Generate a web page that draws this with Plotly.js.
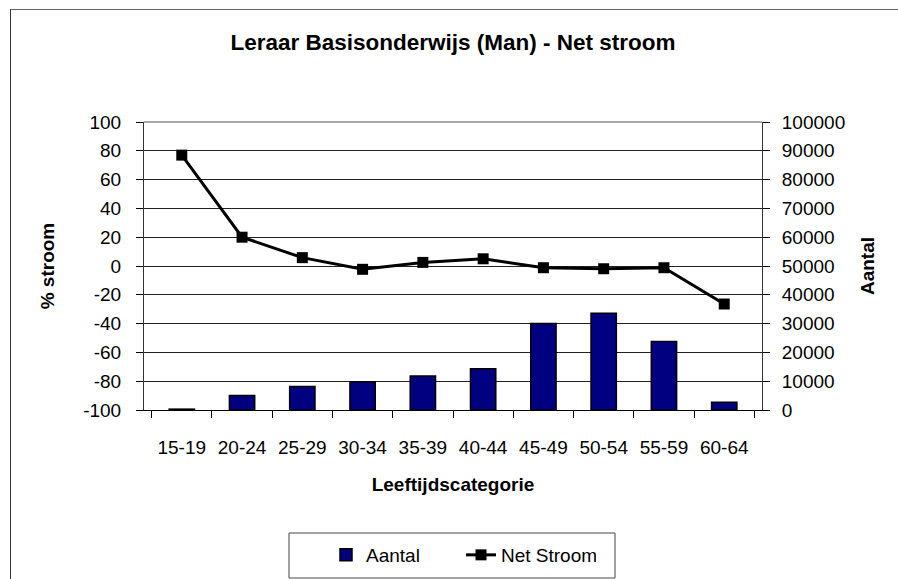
<!DOCTYPE html>
<html>
<head>
<meta charset="utf-8">
<script src="https://cdn.plot.ly/plotly-3.0.1.min.js"></script>
<style>
  html, body { margin: 0; padding: 0; background: #fff; overflow: hidden; width: 898px; height: 579px; }
  #frame { position: absolute; left: 10px; top: 9px; width: 950px; height: 650px; border-left: 1px solid #333; border-top: 1px solid #666; }
  #chart { position: absolute; left: 0; top: 0; width: 898px; height: 579px; }
</style>
</head>
<body>
<div id="frame"></div>
<div id="chart"></div>
<script>
const categories = ["15-19", "20-24", "25-29", "30-34", "35-39", "40-44", "45-49", "50-54", "55-59", "60-64"];
const aantal = [300, 5000, 8200, 9800, 11800, 14300, 30000, 33600, 23800, 2700];
const netStroom = [77, 20, 5.8, -2.3, 2.5, 5, -1.2, -1.9, -1.2, -26.4];
const leftTicks = [-100, -80, -60, -40, -20, 0, 20, 40, 60, 80, 100];
const rightTicks = [0, 10000, 20000, 30000, 40000, 50000, 60000, 70000, 80000, 90000, 100000];

const font = "Liberation Sans, Arial, sans-serif";

const traces = [
  {
    type: "bar", name: "Aantal", x: categories, y: aantal, yaxis: "y",
    marker: { color: "#000080", line: { color: "#000", width: 1.5 } },
    width: 0.42
  },
  {
    type: "scatter", mode: "lines+markers", name: "Net Stroom", x: categories, y: netStroom, yaxis: "y2",
    line: { color: "#000", width: 3 },
    marker: { symbol: "square", size: 11, color: "#000" }
  }
];

const pl = 144, pr = 762, pt = 122, pb = 410;
const pw = pr - pl, ph = pb - pt;
const px = v => (v - pl) / pw;
const py = v => (pb - v) / ph;

const layout = {
  width: 898, height: 579,
  margin: { l: pl, r: 898 - pr, t: pt, b: 579 - pb, pad: 0, autoexpand: false },
  paper_bgcolor: "rgba(0,0,0,0)", plot_bgcolor: "rgba(0,0,0,0)",
  font: { family: font, size: 19, color: "#000" },
  title: { text: "<b>Leraar Basisonderwijs (Man) - Net stroom</b>", x: 0.5, xref: "paper", y: 1 - 42 / 579, yref: "container", yanchor: "middle", font: { size: 22.5 } },
  showlegend: true,
  legend: { orientation: "h", x: px(326), xanchor: "left", y: py(555), yanchor: "middle", bgcolor: "rgba(0,0,0,0)", borderwidth: 0, font: { size: 19 }, entrywidth: 90, entrywidthmode: "pixels" },
  xaxis: {
    type: "category", tickson: "boundaries", ticks: "outside", ticklen: 7, tickcolor: "#000",
    showline: true, linecolor: "#000", linewidth: 1, showgrid: false, automargin: false,
    ticklabelstandoff: 20,
    title: { text: "<b>Leeftijdscategorie</b>", standoff: 20, font: { size: 19 } }
  },
  yaxis: {
    side: "right", range: [0, 100000], tickvals: rightTicks, ticktext: rightTicks.map(String),
    ticks: "outside", ticklen: 7, tickcolor: "#000", showline: true, linecolor: "#333", linewidth: 1,
    showgrid: true, gridcolor: "#222", gridwidth: 1, zeroline: false, automargin: false,
    ticklabelstandoff: 8,
    title: { text: "<b>Aantal</b>", standoff: 16, font: { size: 19 } }
  },
  yaxis2: {
    overlaying: "y", side: "left", range: [-100, 100], tickvals: leftTicks, ticktext: leftTicks.map(String),
    ticks: "outside", ticklen: 7, tickcolor: "#000", showline: true, linecolor: "#333", linewidth: 1,
    showgrid: false, zeroline: false, automargin: false,
    ticklabelstandoff: 11,
    title: { text: "<b>% stroom</b>", standoff: 23, font: { size: 19 } }
  },
  shapes: [
    { type: "rect", xref: "paper", yref: "paper", x0: px(289), x1: px(615), y0: py(578), y1: py(533), line: { color: "#444", width: 1 }, fillcolor: "rgba(0,0,0,0)" },
    { type: "line", xref: "paper", yref: "paper", x0: 0, x1: 1, y0: 1, y1: 1, line: { color: "#555", width: 1 } }
  ]
};

Plotly.newPlot("chart", traces, layout, { displayModeBar: false, staticPlot: true });
</script>
</body>
</html>
